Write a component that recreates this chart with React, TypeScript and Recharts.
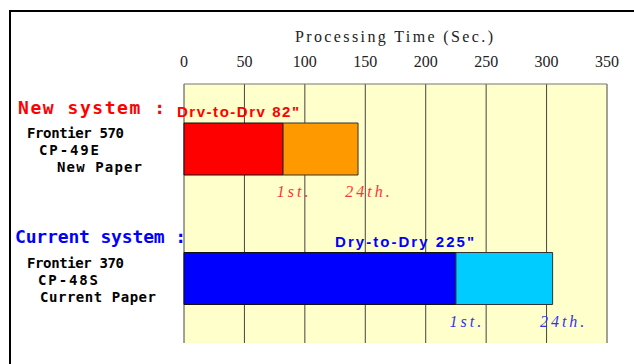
import React from 'react';
import { BarChart, Bar, XAxis, YAxis, CartesianGrid, Cell, LabelList } from 'recharts';

const categories = ['New system', 'Current system'];
const firstPrint = [82, 225];
const extraTo24th = [62, 80];
const firstColors = ['#FF0000', '#0000FF'];
const extraColors = ['#FF9900', '#00CCFF'];
const labelColors = ['#FF3333', '#3333EE'];
const xTicks = [0, 50, 100, 150, 200, 250, 300, 350];

const data = categories.map((name, i) => ({ name, first: firstPrint[i], extra: extraTo24th[i] }));

const SERIF = '"Liberation Serif", "DejaVu Serif", serif';
const GOTHIC = '"DejaVu Sans Mono", monospace';
const SANS = '"Liberation Sans", Arial, sans-serif';

const TopTick = (props: any) => {
  const { x, y, payload } = props;
  return (
    <text x={x} y={y - 17} textAnchor="middle" fontFamily={SERIF} fontSize={16} fill="#222">
      {payload.value}
    </text>
  );
};

const makeEndLabel = (text: string) => (props: any) => {
  const { x, y, width, height, value } = props;
  const idx = categories.indexOf(value);
  const ex = Number(x) + Number(width);
  return (
    <text
      x={ex + 11}
      y={Number(y) + Number(height) + 22}
      textAnchor="middle"
      fontFamily={SERIF}
      fontStyle="italic"
      fontSize={16}
      letterSpacing={3}
      fill={labelColors[idx]}
    >
      {text}
    </text>
  );
};

export default function App() {
  return (
    <div style={{ position: 'absolute', left: 0, top: 0, width: 634, height: 364, background: '#fff' }}>
      <div style={{ position: 'absolute', left: 0, top: 0 }}>
        <BarChart
          width={634}
          height={364}
          data={data}
          layout="vertical"
          margin={{ top: 53, right: 27, bottom: 21, left: 184 }}
          barSize={52}
        >
          <CartesianGrid horizontal={false} fill="#FFFFCC" fillOpacity={1} stroke="#444" strokeOpacity={1} />
          <XAxis
            type="number"
            orientation="top"
            domain={[0, 350]}
            ticks={xTicks}
            height={31}
            tickSize={0}
            tickMargin={0}
            tickLine={false}
            axisLine={{ stroke: '#777' }}
            tick={<TopTick />}
            interval={0}
          />
          <XAxis
            xAxisId="bottom"
            type="number"
            orientation="bottom"
            domain={[0, 350]}
            ticks={xTicks}
            height={0}
            tick={false}
            tickLine={false}
            axisLine={{ stroke: '#999' }}
          />
          <YAxis type="category" dataKey="name" width={0} tick={false} tickLine={false} axisLine={{ stroke: '#000' }} />
          <Bar dataKey="first" stackId="a" stroke="#111" strokeWidth={1} isAnimationActive={false}>
            {data.map((d, i) => (
              <Cell key={d.name} fill={firstColors[i]} />
            ))}
            <LabelList dataKey="name" content={makeEndLabel('1st.')} />
          </Bar>
          <Bar dataKey="extra" stackId="a" stroke="#333" strokeWidth={1} isAnimationActive={false}>
            {data.map((d, i) => (
              <Cell key={d.name} fill={extraColors[i]} />
            ))}
            <LabelList dataKey="name" content={makeEndLabel('24th.')} />
          </Bar>
        </BarChart>
      </div>
      <svg width={634} height={364} style={{ position: 'absolute', left: 0, top: 0, pointerEvents: 'none' }}>
        <line x1={9} y1={11} x2={634} y2={11} stroke="#000" strokeWidth={2} />
        <line x1={10} y1={10} x2={10} y2={364} stroke="#000" strokeWidth={2} />
        <text x={295} y={42} fontFamily={SERIF} fontSize={16} fill="#222" textLength={198} lengthAdjust="spacing">
          Processing Time (Sec.)
        </text>
        <text x={18} y={114} fontFamily={GOTHIC} fontWeight="bold" fontSize={18} fill="#FF0000" textLength={147} lengthAdjust="spacing">
          New system :
        </text>
        <text x={177} y={117} fontFamily={SANS} fontWeight="bold" fontSize={15} fill="#FF0000" textLength={122} lengthAdjust="spacing">
          Drv-to-Drv 82"
        </text>
        <text x={27} y={138} fontFamily={GOTHIC} fontWeight="bold" fontSize={14} fill="#000" textLength={97} lengthAdjust="spacing">
          Frontier 570
        </text>
        <text x={39} y={155} fontFamily={GOTHIC} fontWeight="bold" fontSize={14} fill="#000" textLength={60} lengthAdjust="spacing">
          CP-49E
        </text>
        <text x={57} y={172} fontFamily={GOTHIC} fontWeight="bold" fontSize={14} fill="#000" textLength={85} lengthAdjust="spacing">
          New Paper
        </text>
        <text x={15} y={243} fontFamily={GOTHIC} fontWeight="bold" fontSize={18} fill="#0000FF" textLength={171} lengthAdjust="spacing">
          Current system :
        </text>
        <text x={335} y={247} fontFamily={SANS} fontWeight="bold" fontSize={15} fill="#0000FF" textLength={139} lengthAdjust="spacing">
          Dry-to-Dry  225"
        </text>
        <text x={27} y={268} fontFamily={GOTHIC} fontWeight="bold" fontSize={14} fill="#000" textLength={97} lengthAdjust="spacing">
          Frontier 370
        </text>
        <text x={38} y={285} fontFamily={GOTHIC} fontWeight="bold" fontSize={14} fill="#000" textLength={60} lengthAdjust="spacing">
          CP-48S
        </text>
        <text x={40} y={302} fontFamily={GOTHIC} fontWeight="bold" fontSize={14} fill="#000" textLength={116} lengthAdjust="spacing">
          Current Paper
        </text>
      </svg>
    </div>
  );
}
